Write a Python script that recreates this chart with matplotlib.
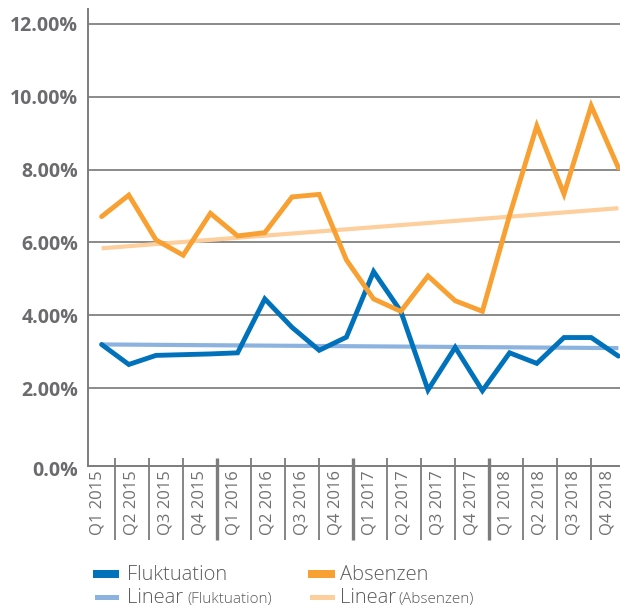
import numpy as np
import matplotlib
matplotlib.use('Agg')
import matplotlib.pyplot as plt
from matplotlib.patches import Rectangle

# quarter labels on the category axis
quarters = ['Q1 2015', 'Q2 2015', 'Q3 2015', 'Q4 2015',
            'Q1 2016', 'Q2 2016', 'Q3 2016', 'Q4 2016',
            'Q1 2017', 'Q2 2017', 'Q3 2017', 'Q4 2017',
            'Q1 2018', 'Q2 2018', 'Q3 2018', 'Q4 2018']

# values in percent (20 points spread over the 16 quarter slots)
fluktuation = [3.20, 2.65, 2.90, 2.92, 2.94, 2.97, 4.45, 3.67, 3.04, 3.40,
               5.20, 4.11, 1.95, 3.12, 1.93, 2.97, 2.68, 3.39, 3.39, 2.88]
absenzen = [6.71, 7.30, 6.07, 5.65, 6.80, 6.18, 6.27, 7.25, 7.32, 5.52,
            4.45, 4.11, 5.08, 4.40, 4.11, 6.75, 9.20, 7.33, 9.75, 8.05]

# linear trend, start and end value
trend_fluktuation = [3.20, 3.10]
trend_absenzen = [5.84, 6.94]

BLUE = '#0071BB'
ORANGE = '#F8A031'
BLUE_LIGHT = '#8CB3E0'
ORANGE_LIGHT = '#FDCF9D'
GRID = '#8a8a8a'
TEXT = '#6b6b6e'
LEGEND_TEXT = '#5c5c5e'

plt.rcParams['font.family'] = ['Open Sans', 'DejaVu Sans']

fig = plt.figure(figsize=(6.2, 6.07), dpi=100)
W, H = 620, 607
# axes runs past the right edge of the picture (the reference is cropped there)
ax = fig.add_axes([88 / W, 1 - 466 / H, 544 / W, 457 / H])

n = len(fluktuation)
xs = (np.arange(n) + 0.5) * len(quarters) / n

for tr, c in ((trend_fluktuation, BLUE_LIGHT), (trend_absenzen, ORANGE_LIGHT)):
    ax.plot([xs[0], xs[-1]], tr, color=c, lw=3.0, solid_capstyle='butt', zorder=2)

ax.plot(xs, fluktuation, color=BLUE, lw=3.5, solid_joinstyle='miter',
        solid_capstyle='round', zorder=3)
ax.plot(xs, absenzen, color=ORANGE, lw=3.5, solid_joinstyle='miter',
        solid_capstyle='round', zorder=4)

ax.set_xlim(0, len(quarters))
ax.set_ylim(-0.137, 12.41)

yt = list(range(2, 13, 2))
ax.set_yticks(yt, ['{:.2f}%'.format(v) for v in yt])
ax.yaxis.grid(True, color=GRID, lw=1.4)
ax.set_axisbelow(True)
ax.tick_params(axis='y', length=0, pad=7, labelsize=14, labelcolor=TEXT)
for lab in ax.get_yticklabels():
    lab.set_fontweight('bold')
ax.annotate('0.0%', xy=(0, -0.28), xycoords=ax.get_yaxis_transform(),
            xytext=(-7, 0), textcoords='offset points', ha='right', va='center',
            fontsize=14, fontweight='bold', color=TEXT)

# the quarter axis sits a few pixels left of the value axis
shift = -7 / 34
ax.set_xticks(np.arange(len(quarters)) + 0.5 + shift, quarters, rotation=90)
ax.tick_params(axis='x', length=0, pad=3, labelsize=12, labelcolor='#707072')

for s in ('top', 'right'):
    ax.spines[s].set_visible(False)
for s in ('left', 'bottom'):
    ax.spines[s].set_color('#7c7c7c')
    ax.spines[s].set_linewidth(1.4)

# category separators below the axis, thicker between years
for i in range(1, len(quarters)):
    ax.plot([i + shift, i + shift], [0.0175, -0.162], transform=ax.get_xaxis_transform(),
            color='#7c7c7c', lw=2.4 if i % 4 == 0 else 1.3,
            clip_on=False, solid_capstyle='butt')

# legend
def swatch(x0, y0, w, h, c):
    fig.add_artist(Rectangle((x0 / W, 1 - (y0 + h) / H), w / W, h / H,
                             color=c, transform=fig.transFigure, lw=0))

swatch(93, 570, 26, 7.5, BLUE)
swatch(308, 570, 27, 7.5, ORANGE)
swatch(95, 595, 24, 4.5, BLUE_LIGHT)
swatch(310, 595, 25, 4.5, ORANGE_LIGHT)

big = dict(fontsize=14.5, color=LEGEND_TEXT, va='baseline', fontweight='light')
small = dict(fontsize=11, color=LEGEND_TEXT, va='baseline', fontweight='light')
fig.text(127 / W, 1 - 580 / H, 'Fluktuation', **big)
fig.text(340 / W, 1 - 580 / H, 'Absenzen', **big)
fig.text(127 / W, 1 - 603 / H, 'Linear', **big)
fig.text(187 / W, 1 - 603 / H, '(Fluktuation)', **small)
fig.text(340 / W, 1 - 603 / H, 'Linear', **big)
fig.text(398 / W, 1 - 603 / H, '(Absenzen)', **small)

fig.savefig('out.png', dpi=100)
